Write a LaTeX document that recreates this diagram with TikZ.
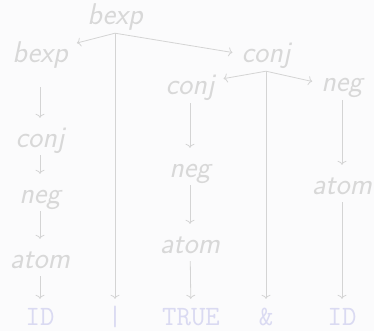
\documentclass[tikz,border=0pt]{standalone}
\usepackage{fontspec}
\usetikzlibrary{arrows.meta}
\definecolor{ntc}{RGB}{216,216,216}
\definecolor{tmc}{RGB}{218,218,242}
\definecolor{lnc}{RGB}{212,212,212}
\definecolor{bgc}{RGB}{251,251,252}
\tikzset{
  nt/.style={font=\sffamily\itshape\fontsize{30}{34}\selectfont, text=ntc,
    inner xsep=9pt, inner ysep=0pt, text height=29pt, text depth=8pt, anchor=base},
  tm/.style={font=\ttfamily\fontsize{28}{32}\selectfont, text=tmc,
    inner xsep=9pt, inner ysep=0pt, text height=26pt, text depth=1pt, anchor=base},
  arr/.style={draw=lnc, line width=0.8pt, -{To[length=4pt,width=9pt]}}
}
\begin{document}
\begin{tikzpicture}[x=1pt,y=-1pt]
\fill[bgc] (0,0) rectangle (374,331);
\useasboundingbox (0,0) rectangle (374,331);
% nonterminals
\node[nt] (r)  at (115,25)  {bexp};
\node[nt] (b1) at (40,63)   {bexp};
\node[nt] (c1) at (40,147)  {conj};
\node[nt] (n1) at (40,203)  {neg};
\node[nt] (a1) at (40,268)  {atom};
\node[nt] (c2) at (266,63)  {conj};
\node[nt] (c3) at (190,95)  {conj};
\node[nt] (n3) at (190,177) {neg};
\node[nt] (a3) at (190,253) {atom};
\node[nt] (n4) at (342,92)  {neg};
\node[nt] (a4) at (342,194) {atom};
% terminals
\node[tm] (t1) at (40,325)  {ID};
\node[tm] (t2) at (115,325) {|};
\node[tm] (t3) at (191,325) {TRUE};
\node[tm] (t4) at (266,325) {\&};
\node[tm] (t5) at (342,325) {ID};
% connectors
\draw[arr] (r.south) -- (b1);
\draw[arr] (r.south) -- (c2.west);
\draw[arr] (r.south) -- (t2);
\draw[arr, shorten <=16pt] (b1) -- (c1);
\draw[arr] (c1) -- (n1);
\draw[arr] (n1) -- (a1);
\draw[arr] (a1) -- (t1);
\draw[arr] (c2.south) -- (c3);
\draw[arr] (c2.south) -- (n4.west);
\draw[arr] (c2.south) -- (t4);
\draw[arr] (c3) -- (n3);
\draw[arr] (n3) -- (a3);
\draw[arr] (a3) -- (t3);
\draw[arr] (n4) -- (a4);
\draw[arr] (a4) -- (t5);
\end{tikzpicture}
\end{document}
